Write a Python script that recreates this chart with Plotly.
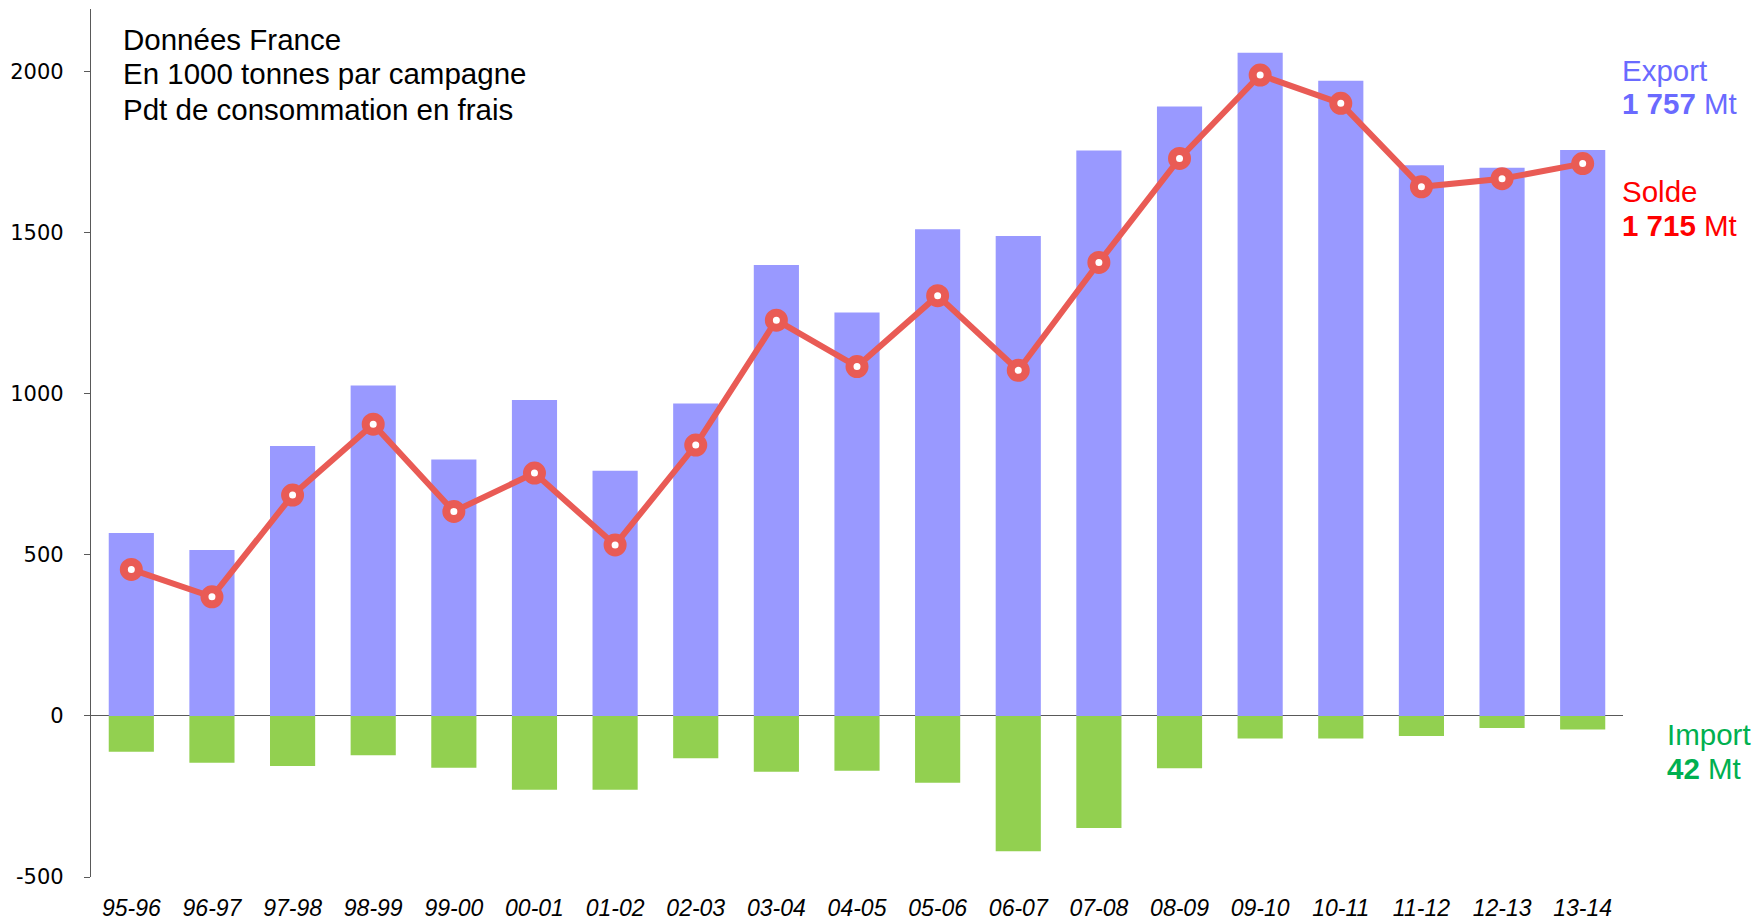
import plotly.graph_objects as go

campagnes = ["95-96", "96-97", "97-98", "98-99", "99-00", "00-01", "01-02", "02-03", "03-04", "04-05",
             "05-06", "06-07", "07-08", "08-09", "09-10", "10-11", "11-12", "12-13", "13-14"]
export_vals = [568, 515, 838, 1026, 796, 981, 761, 970, 1400, 1253,
               1511, 1490, 1756, 1892, 2059, 1972, 1710, 1702, 1757]
import_vals = [-111, -145, -155, -122, -161, -229, -229, -131, -173, -170,
               -207, -420, -348, -162, -70, -70, -62, -37, -42]
solde_vals = [455, 370, 686, 906, 635, 754, 531, 841, 1229, 1085,
              1305, 1073, 1408, 1731, 1990, 1902, 1643, 1668, 1715]
y_ticks = [-500, 0, 500, 1000, 1500, 2000]
y_ticktext = ["-500", "0", "500", "1000", "1500", "2000"]

W, H = 1763, 920
OFF = 8  # page body margin offset
L, R, T, B = 91 - OFF, 140 + OFF, 9 - OFF, 43 + OFF
PW, PH = W - L - R, H - T - B


def px(x):
    return (x - OFF - L) / PW


def py(y):
    return 1 - (y - OFF - T) / PH


fig = go.Figure()
fig.add_trace(go.Bar(x=campagnes, y=export_vals, marker_color="#9999ff", width=0.56,
                     marker_line_width=0, name="Export"))
fig.add_trace(go.Bar(x=campagnes, y=import_vals, marker_color="#92d050", width=0.56,
                     marker_line_width=0, name="Import"))
fig.add_trace(go.Scatter(x=campagnes, y=solde_vals, mode="lines+markers",
                         line=dict(color="#e95b55", width=6),
                         marker=dict(size=15, color="white", line=dict(color="#e95b55", width=8)),
                         name="Solde"))

fig.update_layout(
    width=W, height=H,
    margin=dict(l=L, r=R, t=T, b=B, autoexpand=False),
    paper_bgcolor="white", plot_bgcolor="white",
    barmode="relative",
    showlegend=False,
    font=dict(family="Liberation Sans, Arial, sans-serif", color="black"),
)
fig.update_xaxes(
    type="category", range=[-0.5, 18.5], showgrid=False, showline=False, automargin=False,
    ticks="", tickfont=dict(family="Liberation Sans, Arial", size=23, style="italic", color="black"),
    ticklabelstandoff=15,
)
fig.update_yaxes(
    range=[-500, 2195], tickvals=y_ticks, ticktext=y_ticktext, showgrid=False, automargin=False,
    showline=True, linecolor="#595959", linewidth=1.3,
    ticks="outside", ticklen=6, tickcolor="#595959",
    tickfont=dict(family="DejaVu Sans, Verdana", size=21, color="black"),
    ticklabelstandoff=16,
    zeroline=True, zerolinecolor="#595959", zerolinewidth=1.3,
)

fmt = lambda v: f"{abs(v):,}".replace(",", " ")
ann = []
for text, y in [("Données France", 39), ("En 1000 tonnes par campagne", 74),
                ("Pdt de consommation en frais", 109)]:
    ann.append(dict(text=text, x=px(121), y=py(y), xref="paper", yref="paper",
                    xanchor="left", yanchor="middle", showarrow=False,
                    font=dict(size=29.5, color="black", family="Liberation Sans, Arial")))

labels = [
    ("Export", f"<b>{fmt(export_vals[-1])}</b> Mt", "#6a6aff", 1620, 70, 103),
    ("Solde", f"<b>{fmt(solde_vals[-1])}</b> Mt", "#ff0000", 1620, 191, 225),
    ("Import", f"<b>{fmt(import_vals[-1])}</b> Mt", "#00b050", 1665, 734, 768),
]
for t1, t2, col, x, y1, y2 in labels:
    for t, y in [(t1, y1), (t2, y2)]:
        ann.append(dict(text=t, x=px(x), y=py(y), xref="paper", yref="paper",
                        xanchor="left", yanchor="middle", showarrow=False,
                        font=dict(size=29.5, color=col, family="Liberation Sans, Arial")))
fig.update_layout(annotations=ann)

fig.write_html("out.html")
